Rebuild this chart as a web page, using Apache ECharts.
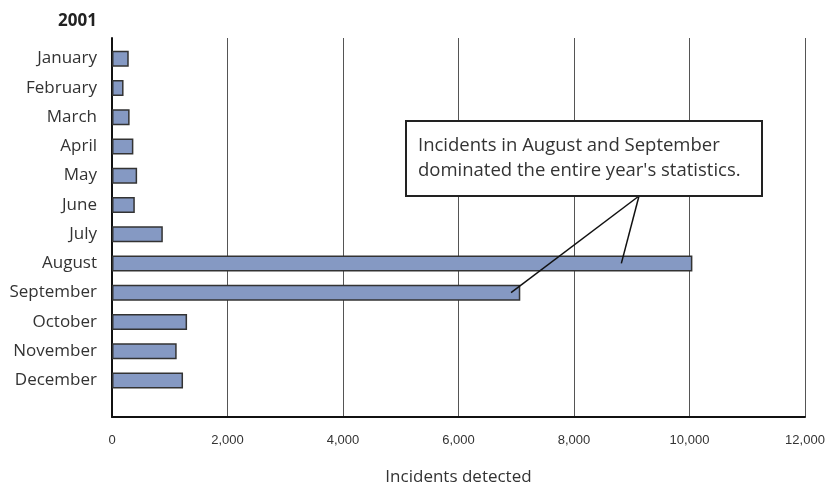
<!DOCTYPE html>
<html>
<head>
<meta charset="utf-8">
<script src="https://cdn.jsdelivr.net/npm/echarts@6/dist/echarts.min.js"></script>
<style>html,body{margin:0;padding:0;background:#fff}#c{width:835px;height:487px}</style>
</head>
<body>
<div id="c"></div>
<script>
const months = ['January','February','March','April','May','June','July','August','September','October','November','December'];
const incidents = [290, 200, 305, 370, 435, 395, 880, 10050, 7070, 1300, 1120, 1230];
const xTicks = [0, 2000, 4000, 6000, 8000, 10000, 12000];
const titleText = '2001';
const xName = 'Incidents detected';
const noteLines = ['Incidents in August and September', "dominated the entire year's statistics."];
const noteTargets = [[8820, 'August'], [6910, 'September']];

const FONT = 'Open Sans';
const chart = echarts.init(document.getElementById('c'), null, {renderer: 'canvas'});
const xMin = xTicks[0], xMax = xTicks[xTicks.length - 1], xStep = xTicks[1] - xTicks[0];

chart.setOption({
  animation: false,
  backgroundColor: '#fff',
  title: {text: titleText, right: 733, top: 8, textStyle: {fontFamily: FONT, fontWeight: 'bold', fontSize: 17, color: '#222'}},
  grid: [
    {left: 112, right: 30, top: 38, bottom: 70, outerBoundsMode: 'none'},
    {left: 112, right: 30, top: 38, bottom: 70, outerBoundsMode: 'none'},
    {left: 112, right: 30, top: 44, bottom: 92, outerBoundsMode: 'none'}
  ],
  xAxis: [
    {type: 'value', gridIndex: 0, min: xMin, max: xMax, interval: xStep,
     axisLine: {show: true, lineStyle: {color: '#111', width: 2}},
     axisTick: {show: false},
     splitLine: {show: true, lineStyle: {color: '#555', width: 1}},
     axisLabel: {margin: 17, fontFamily: "'Liberation Sans', sans-serif", fontSize: 13, color: '#333',
       formatter: v => v.toLocaleString('en-US')},
     name: xName, nameLocation: 'middle', nameGap: 52,
     nameTextStyle: {fontFamily: FONT, fontSize: 17, color: '#333'}},
    {type: 'value', gridIndex: 1, min: xMin, max: xMax, show: false},
    {type: 'value', gridIndex: 2, min: xMin, max: xMax, show: false}
  ],
  yAxis: [
    {type: 'value', gridIndex: 0, min: 0, max: 1, show: false},
    {type: 'category', gridIndex: 1, data: [''], show: true,
     axisLine: {show: true, onZero: false, lineStyle: {color: '#111', width: 2}},
     axisTick: {show: false}, axisLabel: {show: false}, splitLine: {show: false}},
    {type: 'category', gridIndex: 2, data: months, inverse: true,
     axisLine: {show: false}, axisTick: {show: false},
     axisLabel: {margin: 15, fontFamily: FONT, fontSize: 17, color: '#333'}}
  ],
  series: [{
    type: 'bar', xAxisIndex: 2, yAxisIndex: 2,
    data: incidents, barWidth: 16,
    itemStyle: {color: '#8599c3', borderColor: '#333', borderWidth: 1.5},
    markLine: {
      silent: true, symbol: ['none', 'none'],
      lineStyle: {color: '#111', width: 1.5, type: 'solid'},
      label: {show: false},
      data: noteTargets.map(t => [{x: 639, y: 196}, {coord: t}])
    }
  }],
  graphic: [
    {type: 'rect', x: 406, y: 121, shape: {x: 0, y: 0, width: 356, height: 75},
     style: {fill: '#fff', stroke: '#222', lineWidth: 2}, z: 10},
    {type: 'text', x: 418, y: 133, z: 11,
     style: {text: noteLines.join('\n'), fontFamily: FONT, fontSize: 18.5, lineHeight: 25, fill: '#333'}}
  ]
});
</script>
</body>
</html>
